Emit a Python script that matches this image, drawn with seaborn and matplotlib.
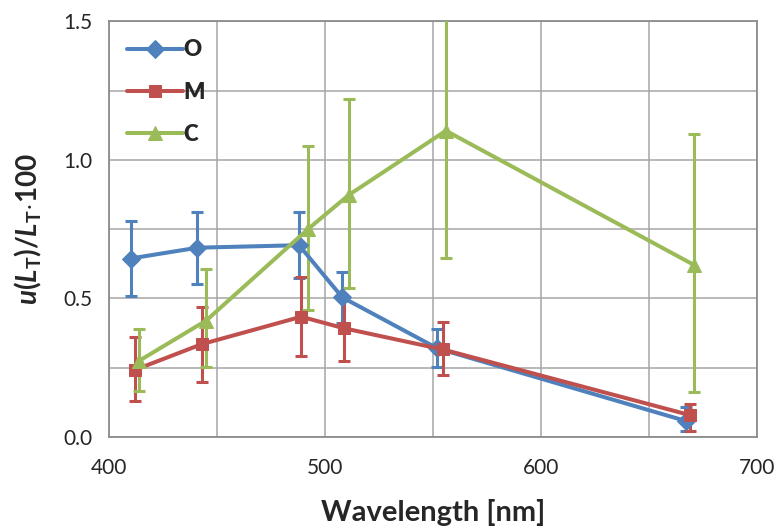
import pandas as pd
import matplotlib.pyplot as plt
from matplotlib.font_manager import FontProperties
import seaborn as sns

# values
series = ['O', 'M', 'C']
o_wl = [410, 441, 488, 508, 552, 667]
o_val = [0.644, 0.683, 0.692, 0.504, 0.320, 0.058]
o_lo = [0.510, 0.552, 0.574, 0.410, 0.254, 0.020]
o_hi = [0.779, 0.810, 0.810, 0.596, 0.390, 0.110]

m_wl = [412, 443, 489, 509, 554.5, 669]
m_val = [0.242, 0.335, 0.434, 0.392, 0.316, 0.079]
m_lo = [0.130, 0.200, 0.292, 0.274, 0.224, 0.023]
m_hi = [0.360, 0.470, 0.577, 0.506, 0.414, 0.119]

c_wl = [414, 445, 492, 511, 556, 671]
c_val = [0.275, 0.420, 0.749, 0.873, 1.105, 0.620]
c_lo = [0.167, 0.253, 0.460, 0.536, 0.645, 0.163]
c_hi = [0.388, 0.606, 1.050, 1.220, 1.600, 1.092]

colors = {'O': '#4F81BD', 'M': '#C0504D', 'C': '#9BBB59'}
markers = {'O': 'D', 'M': 's', 'C': '^'}
msizes = {'O': 9.5, 'M': 8.5, 'C': 10.5}

frames = []
for name, wl, val, lo, hi in [('O', o_wl, o_val, o_lo, o_hi),
                              ('M', m_wl, m_val, m_lo, m_hi),
                              ('C', c_wl, c_val, c_lo, c_hi)]:
    frames.append(pd.DataFrame({'wl': wl, 'val': val, 'lo': lo, 'hi': hi, 'series': name}))
df = pd.concat(frames, ignore_index=True)

sns.set_style('white')
plt.rcParams['font.family'] = ['Lato', 'DejaVu Sans']
plt.rcParams['mathtext.fontset'] = 'custom'
plt.rcParams['mathtext.rm'] = 'Lato:bold'
plt.rcParams['mathtext.bf'] = 'Lato:bold'
plt.rcParams['mathtext.it'] = 'Lato:bold:italic'

fig = plt.figure(figsize=(7.78, 5.31), dpi=100)
ax = fig.add_axes([0.140, 0.177, 0.833, 0.783])

for name in series:
    d = df[df['series'] == name]
    ax.errorbar(d['wl'], d['val'], yerr=[d['val'] - d['lo'], d['hi'] - d['val']],
                fmt='none', ecolor=colors[name], elinewidth=2.2, capsize=4.5,
                capthick=2.2, zorder=3)
    sns.lineplot(data=d, x='wl', y='val', ax=ax, color=colors[name], linewidth=2.9,
                 marker=markers[name], markersize=msizes[name],
                 markeredgecolor=colors[name], label=name, zorder=4)

ax.set_xlim(400, 700)
ax.set_ylim(0, 1.5)
ax.set_xticks([400, 500, 600, 700])
ax.set_xticks([450, 550, 650], minor=True)
ax.set_yticks([0, 0.5, 1.0, 1.5])
ax.set_yticks([0.25, 0.75, 1.25], minor=True)
ax.set_yticklabels(['0.0', '0.5', '1.0', '1.5'])
ax.grid(True, which='both', color='#A6A6A6', linewidth=1.1)
ax.set_axisbelow(True)
for s in ax.spines.values():
    s.set_color('#8C8C8C')
    s.set_linewidth(1.3)
ax.tick_params(axis='both', which='major', direction='out', length=6, width=1.3,
               color='#8C8C8C', labelsize=15, pad=6)
ax.tick_params(axis='y', which='minor', direction='out', length=3, width=1.1, color='#8C8C8C')
ax.tick_params(axis='x', which='minor', length=0)
ax.tick_params(axis='x', which='major', pad=9)

ax.set_xlabel('Wavelength [nm]', fontsize=21, fontweight='bold', labelpad=15)
ax.set_ylabel(r'$u(L_\mathrm{T})/L_\mathrm{T}{\cdot}100$', fontsize=20, labelpad=14)

leg_font = FontProperties(family='Lato', weight='heavy', size=16)
leg = ax.legend(loc='upper left', frameon=False, handlelength=2.5, labelspacing=0.95,
                handletextpad=0.05, borderaxespad=0.42, bbox_to_anchor=(0.0, 1.0),
                prop=leg_font)
for t in leg.get_texts():
    t.set_fontproperties(leg_font)

fig.savefig('out.png', dpi=100)
